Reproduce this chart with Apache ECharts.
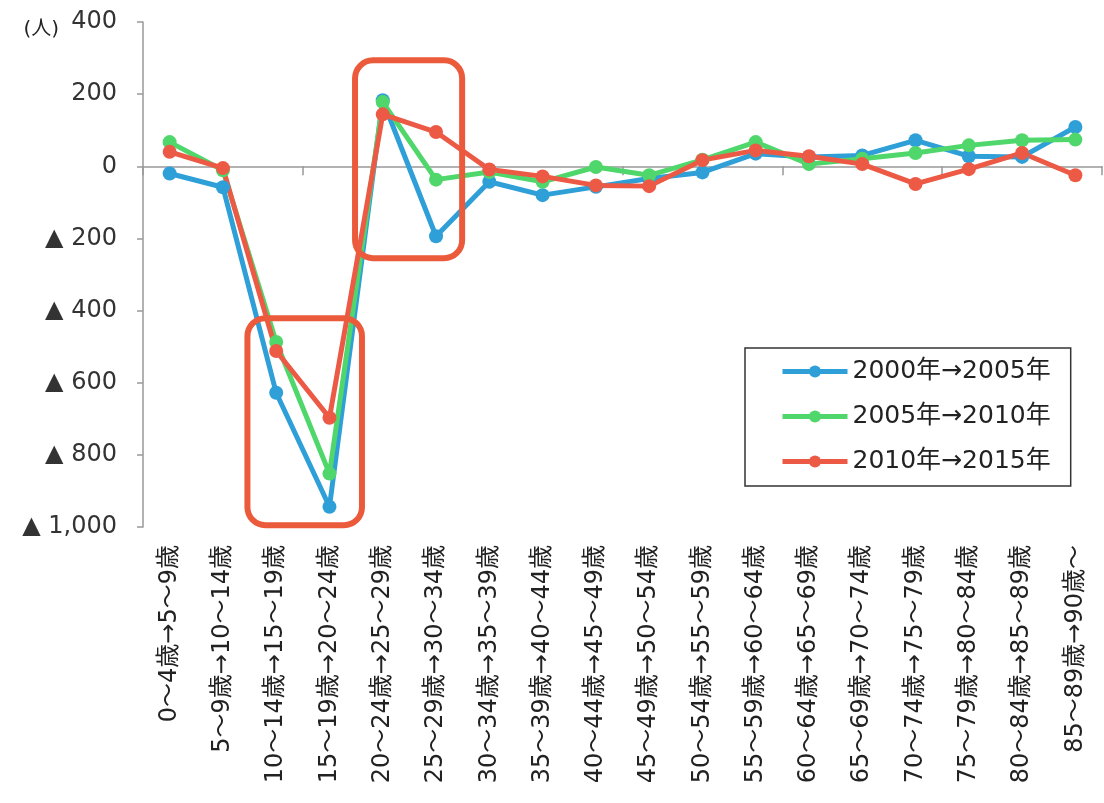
<!DOCTYPE html>
<html>
<head>
<meta charset="utf-8">
<script src="https://cdn.jsdelivr.net/npm/echarts@6/dist/echarts.min.js"></script>
<style>
  html, body { margin: 0; padding: 0; background: #fff; }
  #chart { width: 1104px; height: 803px; }
</style>
</head>
<body>
<div id="chart"></div>
<script>
// 年齢階級（コーホート）
const categories = [
    '0～4歳→5～9歳', '5～9歳→10～14歳', '10～14歳→15～19歳', '15～19歳→20～24歳',
    '20～24歳→25～29歳', '25～29歳→30～34歳', '30～34歳→35～39歳', '35～39歳→40～44歳',
    '40～44歳→45～49歳', '45～49歳→50～54歳', '50～54歳→55～59歳', '55～59歳→60～64歳',
    '60～64歳→65～69歳', '65～69歳→70～74歳', '70～74歳→75～79歳', '75～79歳→80～84歳',
    '80～84歳→85～89歳', '85～89歳→90歳～'
];

const seriesNames = ['2000年→2005年', '2005年→2010年', '2010年→2015年'];

// 純移動数（人）
const values2000to2005 = [-20, -58, -628, -944, 183, -194, -43, -80, -57, -34, -17, 35, 26, 30, 72, 28, 26, 109];
const values2005to2010 = [67, -11, -487, -852, 178, -37, -16, -43, -2, -25, 18, 67, 6, 21, 37, 58, 72, 74];
const values2010to2015 = [40, -5, -512, -697, 144, 95, -9, -28, -53, -55, 17, 44, 28, 6, -49, -8, 37, -25];

const yTicks = { min: -1000, max: 400, interval: 200 };

// 注目箇所の枠（カテゴリ位置・値で指定）
const highlightBoxes = [
    { x0: 1.46, x1: 3.61, y0: -421, y1: -995 },
    { x0: 3.48, x1: 5.49, y0: 294, y1: -255 }
];

const COLORS = ['#2f9fd8', '#4fd76b', '#ec5a45'];
const FONT = '"DejaVu Sans", "Noto Sans CJK JP", sans-serif';

const chart = echarts.init(document.getElementById('chart'));

function fmtY(v) {
    const s = Math.abs(v).toLocaleString('en-US');
    return v < 0 ? '▲ ' + s : s;
}

function lineSeries(name, data, color) {
    return {
        name: name,
        type: 'line',
        data: data,
        xAxisIndex: 0,
        symbol: 'circle',
        symbolSize: 14,
        lineStyle: { width: 5, color: color },
        itemStyle: { color: color },
        emphasis: { disabled: true }
    };
}

chart.setOption({
    animation: false,
    color: COLORS,
    textStyle: { fontFamily: FONT },
    grid: { left: 143, right: 2, top: 22, bottom: 276, containLabel: false },
    legend: {
        orient: 'vertical',
        left: 745,
        top: 348,
        padding: [11, 20, 12, 35],
        borderColor: '#333',
        borderWidth: 1.5,
        itemWidth: 65,
        itemHeight: 15,
        itemGap: 20,
        lineStyle: { width: 5 },
        data: seriesNames,
        textStyle: { fontSize: 25, color: '#222', fontFamily: FONT }
    },
    xAxis: [{
        type: 'category',
        data: categories,
        boundaryGap: true,
        axisLine: { onZero: true, lineStyle: { color: '#999', width: 1.5 } },
        axisTick: { show: true, length: 9, lineStyle: { color: '#999', width: 1.5 } },
        axisLabel: { show: false },
        splitLine: { show: false }
    }, {
        type: 'category',
        data: categories,
        position: 'bottom',
        boundaryGap: true,
        axisLine: { show: false, onZero: false },
        axisTick: { show: false },
        axisLabel: {
            rotate: 90,
            interval: 0,
            margin: 18,
            fontSize: 24,
            color: '#222',
            fontFamily: FONT
        }
    }],
    yAxis: {
        type: 'value',
        min: yTicks.min,
        max: yTicks.max,
        interval: yTicks.interval,
        name: '(人)',
        nameLocation: 'end',
        nameGap: -18,
        nameTextStyle: { fontSize: 20, color: '#222', align: 'right', padding: [0, 84, 0, 0] },
        axisLine: { show: true, lineStyle: { color: '#999', width: 1.5 } },
        axisTick: { show: true, length: 6, lineStyle: { color: '#999', width: 1.5 } },
        splitLine: { show: false },
        axisLabel: {
            formatter: fmtY,
            fontSize: 24,
            color: '#333',
            margin: 26
        }
    },
    series: [
        lineSeries(seriesNames[0], values2000to2005, COLORS[0]),
        lineSeries(seriesNames[1], values2005to2010, COLORS[1]),
        lineSeries(seriesNames[2], values2010to2015, COLORS[2])
    ]
});

// 枠をデータ座標から画素に変換して描く
const p0 = chart.convertToPixel({ xAxisIndex: 0, yAxisIndex: 0 }, [0, 0]);
const p1 = chart.convertToPixel({ xAxisIndex: 0, yAxisIndex: 0 }, [1, 0]);
const step = p1[0] - p0[0];

const boxGraphics = highlightBoxes.map(b => {
    const top = chart.convertToPixel({ yAxisIndex: 0 }, b.y0);
    const bottom = chart.convertToPixel({ yAxisIndex: 0 }, b.y1);
    const left = p0[0] + b.x0 * step;
    const right = p0[0] + b.x1 * step;
    return {
        type: 'rect',
        z: 100,
        shape: { x: left, y: top, width: right - left, height: bottom - top, r: 18 },
        style: { fill: 'none', stroke: '#ec5a3c', lineWidth: 6 }
    };
});

chart.setOption({ graphic: boxGraphics });
</script>
</body>
</html>
